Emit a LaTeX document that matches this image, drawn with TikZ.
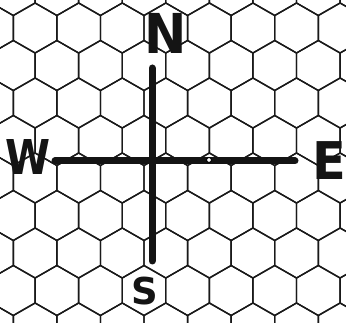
\documentclass[tikz,border=0pt]{standalone}
\usepackage{fontspec}
\setmainfont{DejaVu Sans}
\begin{document}
\begin{tikzpicture}[x=1pt,y=-1pt,
  hexline/.style={line width=1.4pt, black!90, line join=miter},
  bar/.style={line width=7pt, line cap=round, black!92},
  letter/.style={inner sep=0pt, font=\bfseries, text=black!92},
  ring/.style={circle, draw, fill=white, inner sep=0pt, minimum size=5pt, line width=1pt}]
\useasboundingbox (0,0) rectangle (346,323);
\begin{scope}
\clip (0,0) rectangle (346,323);
\foreach \k in {-1,...,9}{
  \foreach \m in {-1,...,8}{
    \pgfmathsetmacro{\hpar}{mod(\k+2,2)}
    \pgfmathsetmacro{\cx}{\hpar==0 ? 35.1+43.57*\m : 13.3+43.57*\m}
    \pgfmathsetmacro{\cy}{28+37.5*\k}
    \draw[hexline] (\cx,\cy-25) -- ++(21.785,12.5) -- ++(0,25) -- ++(-21.785,12.5)
      -- ++(-21.785,-12.5) -- ++(0,-25) -- cycle;
  }
}
\end{scope}
\coordinate (ntop) at (152,68);
\coordinate (sbot) at (152,261);
\coordinate (wend) at (55,161);
\coordinate (eend) at (295,161);
\draw[bar] (ntop) -- (sbot);
\draw[bar] (wend) -- (eend);
\node[ring] (dot) at (209,160) {};
\node[letter, font=\bfseries\fontsize{55}{55}\selectfont, xscale=0.92] (N) at (166,33) {N};
\node[letter, font=\bfseries\fontsize{48}{48}\selectfont, xscale=0.85] (W) at (28,157) {W};
\node[letter, font=\bfseries\fontsize{52}{52}\selectfont, xscale=0.95] (E) at (329,161) {E};
\node[letter, font=\bfseries\fontsize{37}{37}\selectfont] (S) at (145,291) {S};
\end{tikzpicture}
\end{document}
